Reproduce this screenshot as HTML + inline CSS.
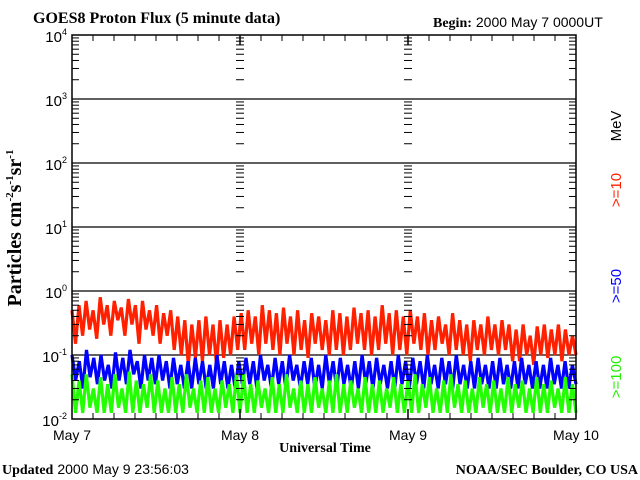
<!DOCTYPE html>
<html><head><meta charset="utf-8"><style>
body{margin:0;background:#fff;width:640px;height:480px;overflow:hidden}
svg{display:block}
.serif{font-family:"Liberation Serif",serif;font-weight:bold}
.sans{font-family:"Liberation Sans",sans-serif}
</style></head><body>
<svg id="chart" width="640" height="480" xmlns="http://www.w3.org/2000/svg">
<rect x="0" y="0" width="640" height="480" fill="#fff"/>
<text class="serif" x="33" y="23" font-size="16">GOES8 Proton Flux (5 minute data)</text>
<text x="433" y="27" font-size="14"><tspan class="serif">Begin:</tspan><tspan class="sans" dx="4">2000 May  7 0000UT</tspan></text>
<text class="serif" font-size="20" transform="translate(21,228) rotate(-90)" text-anchor="middle">Particles cm<tspan font-size="11" dy="-8">-2</tspan><tspan dy="8">s</tspan><tspan font-size="11" dy="-8">-1</tspan><tspan dy="8">sr</tspan><tspan font-size="11" dy="-8">-1</tspan></text>
<text class="serif" x="325" y="452" font-size="14" text-anchor="middle">Universal Time</text>
<text x="2" y="474" font-size="14"><tspan class="serif">Updated</tspan><tspan class="sans" dx="4">2000 May  9 23:56:03</tspan></text>
<text class="serif" x="638" y="474" font-size="14" text-anchor="end">NOAA/SEC Boulder, CO USA</text>
<text class="sans" font-size="15" transform="translate(621,126) rotate(-90)" text-anchor="middle" fill="#000">MeV</text>
<text class="sans" font-size="15" transform="translate(621,190) rotate(-90)" text-anchor="middle" fill="#ff2000">&gt;=10</text>
<text class="sans" font-size="15" transform="translate(621,286) rotate(-90)" text-anchor="middle" fill="#0000ff">&gt;=50</text>
<text class="sans" font-size="15" transform="translate(621,377) rotate(-90)" text-anchor="middle" fill="#22ee00">&gt;=100</text>
<g id="grid"></g>
<g id="series"></g>
<g id="axes"></g>
</svg>
<script>
const dayLabels = ["May 7","May 8","May 9","May 10"];
const decadeExps = [-2,-1,0,1,2,3,4];
const red = [0.5,0.15,0.6,0.2,0.7,0.25,0.5,0.18,0.8,0.3,0.6,0.2,0.7,0.35,0.55,0.2,0.75,0.3,0.6,0.15,0.7,0.25,0.5,0.2,0.6,0.15,0.45,0.2,0.5,0.12,0.4,0.1,0.35,0.07,0.3,0.09,0.35,0.08,0.4,0.1,0.3,0.07,0.35,0.09,0.3,0.1,0.4,0.12,
0.45,0.12,0.5,0.15,0.4,0.1,0.6,0.15,0.5,0.12,0.45,0.1,0.55,0.15,0.4,0.1,0.5,0.12,0.35,0.09,0.45,0.15,0.4,0.12,0.35,0.1,0.5,0.12,0.45,0.1,0.4,0.12,0.55,0.15,0.45,0.12,0.5,0.1,0.4,0.12,0.6,0.15,0.45,0.1,0.5,0.12,0.4,0.1,
0.5,0.15,0.4,0.12,0.45,0.1,0.35,0.12,0.4,0.15,0.3,0.1,0.45,0.12,0.35,0.1,0.3,0.08,0.35,0.12,0.3,0.1,0.4,0.12,0.3,0.1,0.35,0.12,0.3,0.08,0.25,0.08,0.3,0.1,0.2,0.07,0.28,0.1,0.3,0.09,0.25,0.1,0.3,0.08,0.25,0.1,0.2,0.1];
const blue = [0.1,0.04,0.08,0.03,0.12,0.045,0.09,0.035,0.1,0.04,0.07,0.03,0.11,0.04,0.09,0.035,0.12,0.05,0.08,0.03,0.1,0.04,0.09,0.035,0.1,0.04,0.08,0.03,0.09,0.035,0.07,0.03,0.08,0.03,0.09,0.035,0.08,0.03,0.07,0.03,0.1,0.035,0.08,0.03,0.07,0.03,0.08,0.035,
0.09,0.035,0.08,0.03,0.1,0.04,0.07,0.03,0.09,0.035,0.08,0.03,0.1,0.04,0.07,0.03,0.08,0.035,0.09,0.03,0.07,0.03,0.1,0.035,0.08,0.03,0.09,0.035,0.07,0.03,0.08,0.03,0.1,0.035,0.08,0.03,0.09,0.035,0.07,0.03,0.08,0.03,0.1,0.035,0.08,0.03,
0.09,0.035,0.08,0.03,0.1,0.035,0.07,0.03,0.09,0.035,0.08,0.03,0.1,0.035,0.07,0.03,0.08,0.03,0.09,0.035,0.07,0.03,0.08,0.03,0.09,0.035,0.07,0.03,0.08,0.03,0.09,0.035,0.07,0.03,0.08,0.03,0.07,0.03,0.09,0.035,0.07,0.03,0.08,0.03,0.07,0.035];
const green = [0.05,0.0125,0.04,0.0125,0.05,0.015,0.03,0.0125,0.045,0.0125,0.035,0.0125,0.05,0.015,0.03,0.0125,0.055,0.0125,0.04,0.0125,0.035,0.015,0.05,0.0125,0.04,0.0125,0.03,0.0125,0.045,0.0125,0.035,0.0125,0.05,0.015,0.03,0.0125,0.04,0.0125,0.045,0.0125,0.03,0.0125,0.04,0.015,0.035,0.0125,0.05,0.0125,
0.05,0.0125,0.035,0.0125,0.04,0.015,0.03,0.0125,0.045,0.0125,0.035,0.0125,0.05,0.015,0.03,0.0125,0.04,0.0125,0.035,0.0125,0.045,0.015,0.03,0.0125,0.04,0.0125,0.05,0.0125,0.035,0.0125,0.04,0.015,0.03,0.0125,0.045,0.0125,0.035,0.0125,0.04,0.0125,0.03,0.015,0.045,0.0125,0.035,0.0125,
0.04,0.0125,0.05,0.0125,0.035,0.015,0.045,0.0125,0.03,0.0125,0.04,0.0125,0.05,0.015,0.035,0.0125,0.04,0.0125,0.03,0.0125,0.045,0.015,0.035,0.0125,0.04,0.0125,0.03,0.0125,0.045,0.0125,0.035,0.015,0.04,0.0125,0.03,0.0125,0.045,0.0125,0.035,0.0125,0.04,0.015,0.03,0.0125,0.045,0.0125,0.035,0.0125];

const X0=72, X1=576, YTOP=35, DEC=64, EXPTOP=4;
const xScale = t => X0 + t*(X1-X0);
const yScale = v => YTOP + (EXPTOP - Math.log10(v))*DEC;
const NS="http://www.w3.org/2000/svg";
function mk(tag, attrs, parent){const e=document.createElementNS(NS,tag);for(const k in attrs)e.setAttribute(k,attrs[k]);parent.appendChild(e);return e;}
const grid=document.getElementById('grid'), ser=document.getElementById('series'), axes=document.getElementById('axes');
const YB = yScale(Math.pow(10,decadeExps[0]));

decadeExps.forEach(ex=>{
  const y=yScale(Math.pow(10,ex));
  if(ex>decadeExps[0] && ex<EXPTOP){
    const l=mk('line',{x1:X0,x2:X1,y1:y,y2:y,stroke:'#000','stroke-width':1.3},grid);
    
    
  }
  const t=mk('text',{x:67,y:y+7,'text-anchor':'end','font-size':15,'font-family':'Liberation Sans, sans-serif'},axes);
  
  
  t.textContent='10';
  const s=mk('tspan',{'font-size':9,dy:-7},t); s.textContent=String(ex);
  if(ex<EXPTOP){
    for(let m=2;m<=9;m++){
      const ym=yScale(m*Math.pow(10,ex));
      [[X0,X0+7],[X1-7,X1]].forEach(p=>{const tk=mk('line',{x1:p[0],x2:p[1],y1:ym,y2:ym,stroke:'#000','stroke-width':1},axes);
        
        });
      [1,2].forEach(d=>{const xd=xScale(d/3);const tk=mk('line',{x1:xd-4,x2:xd+4,y1:ym,y2:ym,stroke:'#000','stroke-width':1},axes);
        
        });
    }
  }
});

function drawSeries(arr,color,name){
  const pts=arr.map((v,i)=>xScale(i/(arr.length-1)).toFixed(1)+','+yScale(v).toFixed(1)).join(' ');
  const p=mk('polyline',{points:pts,fill:'none',stroke:color,'stroke-width':3.2,'stroke-linejoin':'miter','stroke-miterlimit':2},ser);
  
  
}
drawSeries(red,'#ff2000','series-10mev');
drawSeries(blue,'#0000ff','series-50mev');
drawSeries(green,'#22ff00','series-100mev');

const fr=mk('rect',{x:X0,y:YTOP,width:X1-X0,height:YB-YTOP,fill:'none',stroke:'#000','stroke-width':1.5},axes);


[1,2].forEach(d=>{const x=xScale(d/3);
  const l=mk('line',{x1:x,x2:x,y1:YB-10,y2:YB,stroke:'#000','stroke-width':1.5},axes);
  
  
  const l2=mk('line',{x1:x,x2:x,y1:YTOP,y2:YTOP+10,stroke:'#000','stroke-width':1.5},axes);
  
  });
for(let h=3;h<72;h+=3){ if(h%24===0) continue;
  const x=xScale(h/72);
  const a=mk('line',{x1:x,x2:x,y1:YTOP,y2:YTOP+6,stroke:'#000','stroke-width':1},axes);
  
  
  const b=mk('line',{x1:x,x2:x,y1:YB-6,y2:YB,stroke:'#000','stroke-width':1},axes);
  
  
}
dayLabels.forEach((lab,i)=>{
  const t=mk('text',{x:xScale(i/3),y:440,'text-anchor':'middle','font-size':14,'font-family':'Liberation Sans, sans-serif'},axes);
  
  
  t.textContent=lab;
});
</script>
</body></html>
